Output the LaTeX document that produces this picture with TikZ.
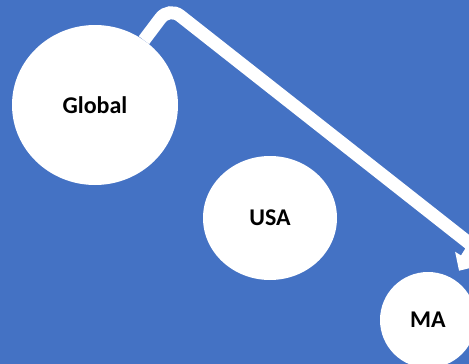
\documentclass[tikz,border=0pt]{standalone}
\usepackage{fontspec}
\setmainfont{Carlito}
\usetikzlibrary{arrows.meta,shapes.geometric}
\definecolor{bg}{HTML}{4472C4}
\begin{document}
\begin{tikzpicture}[x=1pt,y=-1pt,
  bubble/.style={ellipse,fill=white,draw=none,inner sep=0pt,text=black,
    font=\fontsize{24}{28}\selectfont\bfseries},
  flow/.style={draw=white,line width=13pt,-{Triangle[length=14pt,width=26pt]}}]
\fill[bg] (0,0) rectangle (469,364);
\useasboundingbox (0,0) rectangle (469,364);
\node[bubble,minimum width=166pt,minimum height=160pt] (Global) at (95,105) {Global};
\node[bubble,minimum width=134pt,minimum height=124pt] (USA) at (270,218) {USA};
\node[bubble,minimum width=96pt,minimum height=96pt] (MA) at (428,320) {MA};
\coordinate (bend1) at (169,7);
\coordinate (bend2) at (474,247);
\draw[flow,shorten >=10pt] (Global) [rounded corners=14pt] -- (bend1) [rounded corners=6pt] -- (bend2) -- (MA);
\end{tikzpicture}
\end{document}
